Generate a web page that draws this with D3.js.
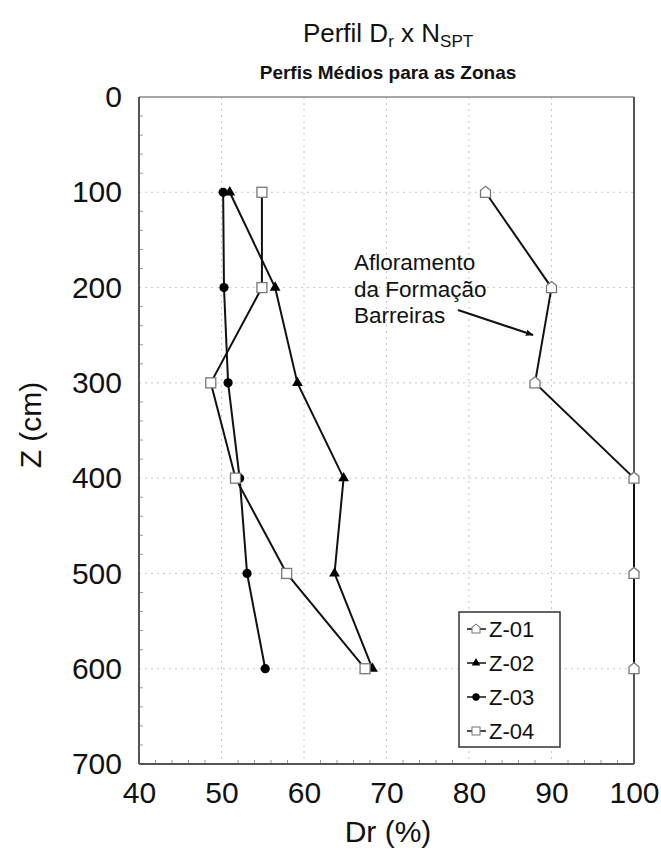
<!DOCTYPE html>
<html>
<head>
<meta charset="utf-8">
<script src="https://cdn.jsdelivr.net/npm/d3@7/dist/d3.min.js"></script>
<style>
  html, body { margin: 0; padding: 0; background: #fff; }
  svg { display: block; font-family: "Liberation Sans", Arial, sans-serif; }
</style>
</head>
<body>
<svg id="chart" width="661" height="852"></svg>
<script>
// Depths (cm) and mean relative density Dr (%) per zone
const depths = [100, 200, 300, 400, 500, 600];
const z01 = [82, 90, 88, 100, 100, 100];
const z02 = [51, 56.5, 59.2, 64.8, 63.7, 68.3];
const z03 = [50.2, 50.3, 50.8, 52.2, 53.1, 55.3];
const z04 = [54.9, 54.9, 48.7, 51.7, 57.9, 67.4];
const seriesNames = ["Z-01", "Z-02", "Z-03", "Z-04"];
const xTicks = [40, 50, 60, 70, 80, 90, 100];
const yTicks = [0, 100, 200, 300, 400, 500, 600, 700];

const svg = d3.select("#chart");
const plotL = 139, plotR = 634, plotT = 97, plotB = 764;

const x = d3.scaleLinear().domain([40, 100]).range([plotL, plotR]);
const y = d3.scaleLinear().domain([0, 700]).range([plotT, plotB]);

// Dotted grid at the major ticks
const grid = svg.append("g");
grid.selectAll("line.v").data(xTicks.slice(1, -1)).join("line")
  .attr("x1", d => x(d)).attr("x2", d => x(d))
  .attr("y1", plotT).attr("y2", plotB)
  .attr("stroke", "#c8c8c8").attr("stroke-width", 1).attr("stroke-dasharray", "2,4");
grid.selectAll("line.h").data(yTicks.slice(1, -1)).join("line")
  .attr("x1", plotL).attr("x2", plotR)
  .attr("y1", d => y(d)).attr("y2", d => y(d))
  .attr("stroke", "#c8c8c8").attr("stroke-width", 1).attr("stroke-dasharray", "2,4");

// Minor ticks pointing into the plot
const minorX = d3.range(42, 100, 2).filter(v => v % 10 !== 0);
const minorY = d3.range(20, 700, 20).filter(v => v % 100 !== 0);
svg.append("g").selectAll("line").data(minorX).join("line")
  .attr("x1", d => x(d)).attr("x2", d => x(d))
  .attr("y1", plotB).attr("y2", plotB - 4)
  .attr("stroke", "#999").attr("stroke-width", 1);
svg.append("g").selectAll("line").data(minorY).join("line")
  .attr("x1", plotL).attr("x2", plotL + 4)
  .attr("y1", d => y(d)).attr("y2", d => y(d))
  .attr("stroke", "#999").attr("stroke-width", 1);

// Axes: labels only, the frame is drawn separately
const xAxis = svg.append("g").attr("transform", `translate(0,${plotB})`)
  .call(d3.axisBottom(x).tickValues(xTicks).tickSize(0).tickPadding(18));
const yAxis = svg.append("g").attr("transform", `translate(${plotL},0)`)
  .call(d3.axisLeft(y).tickValues(yTicks).tickSize(0).tickPadding(17));
[xAxis, yAxis].forEach(a => {
  a.select(".domain").remove();
  a.selectAll("text").attr("font-size", 30).attr("fill", "#111")
    .attr("font-family", "'Liberation Sans', Arial, sans-serif");
});
xAxis.selectAll("text").attr("dy", "0.71em");

// Plot frame
svg.append("line").attr("x1", plotL).attr("x2", plotR).attr("y1", plotT).attr("y2", plotT)
  .attr("stroke", "#888").attr("stroke-width", 1.5);
svg.append("line").attr("x1", plotR).attr("x2", plotR).attr("y1", plotT).attr("y2", plotB)
  .attr("stroke", "#555").attr("stroke-width", 2);
svg.append("line").attr("x1", plotL).attr("x2", plotL).attr("y1", plotT).attr("y2", plotB)
  .attr("stroke", "#555").attr("stroke-width", 2);
svg.append("line").attr("x1", plotL).attr("x2", plotR).attr("y1", plotB).attr("y2", plotB)
  .attr("stroke", "#555").attr("stroke-width", 2);

// Marker shapes
const house = "M0,-6 L5,-2 L5,5 L-5,5 L-5,-2 Z";
function drawMarker(g, kind) {
  if (kind === 0) g.append("path").attr("d", house).attr("fill", "#fff").attr("stroke", "#777").attr("stroke-width", 1.3);
  if (kind === 1) g.append("path").attr("d", d3.symbol(d3.symbolTriangle, 50)()).attr("fill", "#000");
  if (kind === 2) g.append("circle").attr("r", 4.6).attr("fill", "#000");
  if (kind === 3) g.append("rect").attr("x", -5).attr("y", -5).attr("width", 10).attr("height", 10)
    .attr("fill", "#fff").attr("stroke", "#777").attr("stroke-width", 1.3);
}

const series = [z01, z02, z03, z04];
const line = d3.line().x(d => x(d[0])).y(d => y(d[1]));

series.forEach((vals, i) => {
  const pts = vals.map((v, k) => [v, depths[k]]);
  svg.append("path").attr("d", line(pts)).attr("fill", "none")
    .attr("stroke", "#111").attr("stroke-width", 2);
});
series.forEach((vals, i) => {
  vals.forEach((v, k) => {
    const m = svg.append("g").attr("transform", `translate(${x(v)},${y(depths[k])})`);
    drawMarker(m, i);
  });
});

// Titles
const t = svg.append("text").attr("x", 388).attr("y", 42).attr("text-anchor", "middle")
  .attr("font-size", 26).attr("fill", "#111");
t.append("tspan").text("Perfil D");
t.append("tspan").attr("font-size", 17).attr("dy", 5).text("r");
t.append("tspan").attr("dy", -5).text(" x N");
t.append("tspan").attr("font-size", 17).attr("dy", 5).text("SPT");

svg.append("text").attr("x", 388).attr("y", 79).attr("text-anchor", "middle")
  .attr("font-size", 19).attr("font-weight", "bold").attr("fill", "#111")
  .text("Perfis Médios para as Zonas");

svg.append("text").attr("x", 388).attr("y", 842).attr("text-anchor", "middle")
  .attr("font-size", 30).attr("fill", "#111").text("Dr (%)");
svg.append("text").attr("transform", "translate(41,425) rotate(-90)").attr("text-anchor", "middle")
  .attr("font-size", 30).attr("fill", "#111").text("Z (cm)");

// Annotation with arrow
const defs = svg.append("defs");
defs.append("marker").attr("id", "arrow").attr("viewBox", "0 0 10 10")
  .attr("refX", 9).attr("refY", 5).attr("markerWidth", 8).attr("markerHeight", 8)
  .attr("orient", "auto").attr("markerUnits", "userSpaceOnUse")
  .append("path").attr("d", "M0,1 L10,5 L0,9 Z").attr("fill", "#111");
const note = svg.append("text").attr("font-size", 22.5).attr("fill", "#111");
["Afloramento", "da Formação", "Barreiras"].forEach((s, i) => {
  note.append("tspan").attr("x", 354).attr("y", 270 + i * 26.5).text(s);
});
svg.append("line").attr("x1", 458).attr("y1", 310).attr("x2", 533).attr("y2", 335)
  .attr("stroke", "#111").attr("stroke-width", 2).attr("marker-end", "url(#arrow)");

// Legend
const lg = svg.append("g");
lg.append("rect").attr("x", 459).attr("y", 612).attr("width", 101).attr("height", 135)
  .attr("fill", "#fff").attr("stroke", "#333").attr("stroke-width", 1.5);
seriesNames.forEach((name, i) => {
  const cy = 629 + i * 34;
  lg.append("line").attr("x1", 467).attr("x2", 486).attr("y1", cy).attr("y2", cy)
    .attr("stroke", "#111").attr("stroke-width", 1.5);
  const m = lg.append("g").attr("transform", `translate(476,${cy}) scale(0.8)`);
  drawMarker(m, i);
  lg.append("text").attr("x", 489).attr("y", cy).attr("dy", "0.36em")
    .attr("font-size", 22).attr("fill", "#111").text(name);
});
</script>
</body>
</html>
